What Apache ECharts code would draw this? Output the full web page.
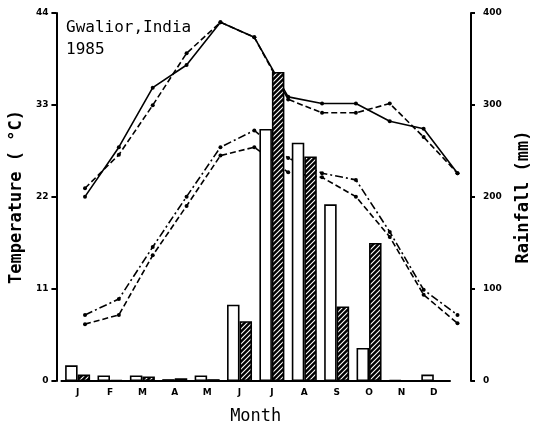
<!DOCTYPE html>
<html>
<head>
<meta charset="utf-8">
<style>html,body{margin:0;padding:0;background:#fff;}#c{width:540px;height:430px;}</style>
<script src="https://cdn.jsdelivr.net/npm/echarts@6/dist/echarts.min.js"></script>
</head>
<body>
<div id="c"></div>
<script>
// ---- data ----
var months = ['J','F','M','A','M','J','J','A','S','O','N','D'];
var rainOpen    = [17, 6, 6, 2, 6, 83, 274, 259, 192, 36, 1, 7];
var rainHatched = [7, 1, 5, 3, 2, 65, 336, 244, 81, 150, 0, 0];
var maxSolid  = [22.1, 28.0, 35.1, 37.8, 42.9, 41.1, 34.0, 33.2, 33.2, 31.1, 30.2, 24.9];
var maxDashed = [23.1, 27.1, 33.0, 39.2, 42.9, 41.1, 33.7, 32.1, 32.1, 33.2, 29.2, 24.9];
var minDashDot = [8.0, 9.9, 16.1, 22.1, 28.0, 30.0, 26.7, 24.9, 24.1, 17.9, 11.0, 8.0];
var minDashed  = [6.9, 8.0, 15.1, 21.0, 27.0, 28.0, 25.0, 24.4, 22.1, 17.3, 10.4, 7.0];
var tempTicks = [0, 11, 22, 33, 44];
var rainTicks = [0, 100, 200, 300, 400];

var mono = '"DejaVu Sans Mono", "Liberation Mono", monospace';
var sans = '"DejaVu Sans", sans-serif';

// diagonal "/" hatch pattern: black ground, white stripes
function makeHatch() {
  var s = 5;
  var cv = document.createElement('canvas');
  cv.width = s; cv.height = s;
  var ctx = cv.getContext('2d');
  ctx.fillStyle = '#000';
  ctx.fillRect(0, 0, s, s);
  ctx.strokeStyle = '#fff';
  ctx.lineWidth = 1.1;
  ctx.beginPath();
  ctx.moveTo(-1, s + 1); ctx.lineTo(s + 1, -1);
  ctx.moveTo(-1, 1); ctx.lineTo(1, -1);
  ctx.moveTo(s - 1, s + 1); ctx.lineTo(s + 1, s - 1);
  ctx.stroke();
  return cv;
}

var chart = echarts.init(document.getElementById('c'), null, {renderer: 'canvas'});

function lineSeries(data, type, z) {
  return {
    type: 'line', xAxisIndex: 1, yAxisIndex: 2, data: data, z: z,
    symbol: 'circle', symbolSize: 4, showSymbol: true,
    itemStyle: {color: '#000'},
    lineStyle: {color: '#000', width: 1.6, type: type},
    silent: true
  };
}

chart.setOption({
  animation: false,
  backgroundColor: '#fff',
  title: {
    text: 'Gwalior,India\n1985', left: 61, top: 12,
    textStyle: {fontFamily: mono, fontSize: 16, fontWeight: 'normal', color: '#000', lineHeight: 22}
  },
  grid: [
    {left: 57, right: 78.4, top: 13, bottom: 48},
    {left: 85, right: 82.5, top: 13, bottom: 48}
  ],
  xAxis: [
    {
      type: 'category', gridIndex: 0, data: months,
      axisLine: {lineStyle: {color: '#000', width: 2}},
      axisTick: {alignWithLabel: true, length: 4, lineStyle: {color: '#000', width: 2}},
      axisLabel: {color: '#000', fontSize: 9, fontWeight: 'bold', fontFamily: sans, margin: 7},
      name: 'Month', nameLocation: 'middle', nameGap: 27,
      nameTextStyle: {fontFamily: mono, fontSize: 17, color: '#000'}
    },
    {
      type: 'category', gridIndex: 1, data: months, boundaryGap: false, show: false
    }
  ],
  yAxis: [
    {
      type: 'value', gridIndex: 0, position: 'left', offset: 5,
      min: tempTicks[0], max: tempTicks[tempTicks.length - 1], interval: tempTicks[1] - tempTicks[0],
      axisLine: {show: true, lineStyle: {color: '#000', width: 2}},
      axisTick: {show: true, length: 5, lineStyle: {color: '#000', width: 2}},
      axisLabel: {color: '#000', fontSize: 9, fontWeight: 'bold', fontFamily: sans, margin: 8},
      splitLine: {show: false},
      name: 'Temperature ( °C)', nameLocation: 'middle', nameGap: 26, nameRotate: 90,
      nameTextStyle: {fontFamily: mono, fontSize: 17, fontWeight: 'bold', color: '#000'}
    },
    {
      type: 'value', gridIndex: 0, position: 'right', offset: 21,
      min: rainTicks[0], max: rainTicks[rainTicks.length - 1], interval: rainTicks[1] - rainTicks[0],
      axisLine: {show: true, lineStyle: {color: '#000', width: 2}},
      axisTick: {show: true, length: 4, lineStyle: {color: '#000', width: 2}},
      axisLabel: {color: '#000', fontSize: 9, fontWeight: 'bold', fontFamily: sans, margin: 12},
      splitLine: {show: false},
      name: 'Rainfall (mm)', nameLocation: 'middle', nameGap: 44, nameRotate: 90,
      nameTextStyle: {fontFamily: mono, fontSize: 17, fontWeight: 'bold', color: '#000'}
    },
    {
      type: 'value', gridIndex: 1, show: false,
      min: tempTicks[0], max: tempTicks[tempTicks.length - 1]
    }
  ],
  series: [
    lineSeries(maxSolid, 'solid', 2),
    lineSeries(maxDashed, [6, 3], 2),
    lineSeries(minDashDot, [8, 3, 2, 3], 2),
    lineSeries(minDashed, [6, 3], 2),
    {
      type: 'bar', xAxisIndex: 0, yAxisIndex: 1, data: rainOpen, z: 5,
      barWidth: 12.5, barGap: '0%',
      itemStyle: {color: '#fff', borderColor: '#000', borderWidth: 1.6},
      silent: true
    },
    {
      type: 'bar', xAxisIndex: 0, yAxisIndex: 1, data: rainHatched, z: 5,
      barWidth: 12.5, barGap: '0%',
      itemStyle: {
        color: {image: makeHatch(), repeat: 'repeat'},
        borderColor: '#000', borderWidth: 1.6
      },
      silent: true
    }
  ]
});
</script>
</body>
</html>
